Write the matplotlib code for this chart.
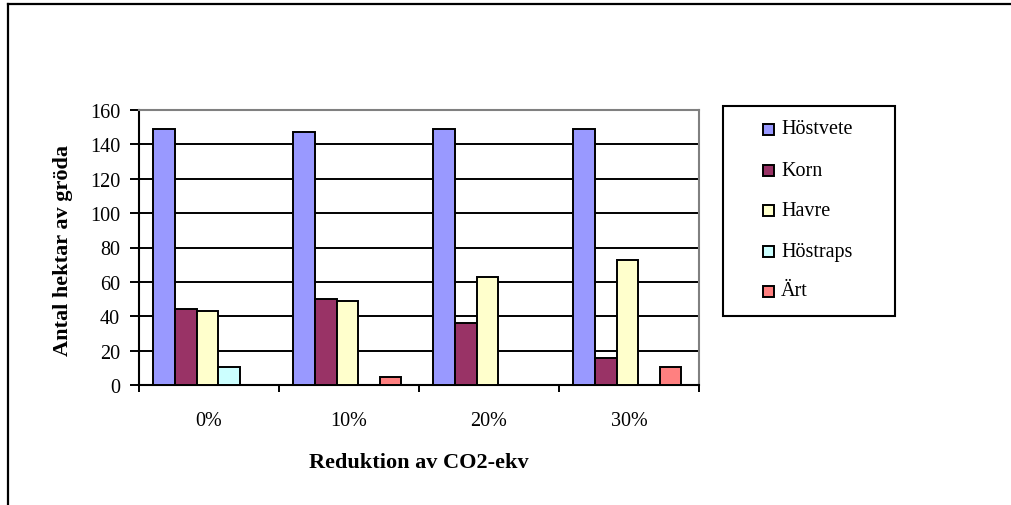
import matplotlib
matplotlib.use("Agg")
import matplotlib.pyplot as plt
import numpy as np
from matplotlib.patches import Rectangle
from matplotlib.lines import Line2D

# --- data ---------------------------------------------------------------
categories = ["0%", "10%", "20%", "30%"]
crops = ["Höstvete", "Korn", "Havre", "Höstraps", "Ärt"]
hostvete = [149, 147, 149, 149]
korn = [44, 50, 36, 16]
havre = [43, 49, 63, 73]
hostraps = [10.5, 0, 0, 0]
art = [0, 4.5, 0, 10.5]
y_ticks = [0, 20, 40, 60, 80, 100, 120, 140, 160]

series = [hostvete, korn, havre, hostraps, art]
colors = ["#9999FF", "#993366", "#FFFFCC", "#CCFFFF", "#FF8080"]

W, H = 1012, 506
plt.rcParams["font.family"] = ["Liberation Serif", "DejaVu Serif"]

fig = plt.figure(figsize=(W / 100, H / 100), dpi=100)
fig.patch.set_facecolor("white")

def fx(px):
    return px / W

def fy(py):
    return 1 - py / H

# outer chart frame (runs off the right and bottom edges)
fig.add_artist(Line2D([fx(8), 1.0], [fy(5), fy(5)], color="black", lw=1.6))
fig.add_artist(Line2D([fx(8), fx(8)], [fy(5), 0.0], color="black", lw=1.6))

ax = fig.add_axes([fx(139), fy(386), 560 / W, 275 / H])

x = np.arange(len(categories))
bw = 0.154
for i, (vals, col, name) in enumerate(zip(series, colors, crops)):
    ax.bar(x + (i - 2) * bw - 0.012, vals, width=bw, color=col,
           edgecolor="black", linewidth=1.4, label=name, zorder=3)

ax.set_xlim(-0.5, len(categories) - 0.5)
ax.set_ylim(0, 160)
ax.set_yticks(y_ticks)
ax.set_yticklabels([str(v) for v in y_ticks], fontsize=14.5)
ax.yaxis.grid(True, color="black", linewidth=1.4, zorder=0)
ax.set_axisbelow(True)

ax.set_xticks(x)
ax.set_xticklabels(categories, fontsize=14.5)
ax.tick_params(axis="x", which="major", length=0, pad=19)
ax.set_xticks(np.arange(-0.5, len(categories), 1.0), minor=True)
ax.tick_params(axis="x", which="minor", length=5, width=1.4, direction="out")
ax.tick_params(axis="y", length=6.5, width=1.4, direction="out", pad=7)

for side in ("top", "right"):
    ax.spines[side].set_color("#808080")
    ax.spines[side].set_linewidth(1.5)
for side in ("left", "bottom"):
    ax.spines[side].set_color("black")
    ax.spines[side].set_linewidth(1.5)

fig.text(fx(63), fy(251), "Antal hektar av gröda", rotation=90,
         ha="center", va="center", fontsize=16, fontweight="bold")
fig.text(fx(419), fy(463), "Reduktion av CO2-ekv",
         ha="center", va="center", fontsize=16, fontweight="bold")

# legend box
fig.add_artist(Rectangle((fx(723), fy(317)), (895 - 723) / W, (317 - 107) / H,
                         transform=fig.transFigure, facecolor="white",
                         edgecolor="black", linewidth=1.5))
row_y = [130, 171, 211, 252, 292]
for ry, col, name in zip(row_y, colors, crops):
    fig.add_artist(Rectangle((fx(762.5), fy(ry + 5.5)), 11 / W, 11 / H,
                             transform=fig.transFigure, facecolor=col,
                             edgecolor="black", linewidth=1.4))
    fig.text(fx(781), fy(ry), name, ha="left", va="center", fontsize=14.5)

fig.savefig("out.png", dpi=100, facecolor="white")
